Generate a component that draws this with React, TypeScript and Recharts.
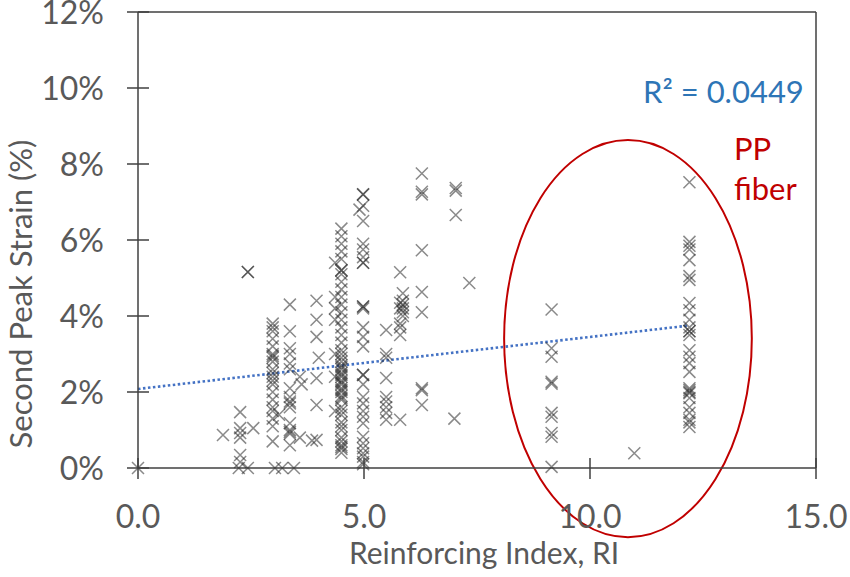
import React from "react";
import {
  ScatterChart, Scatter, XAxis, YAxis, ReferenceLine, ReferenceArea,
} from "recharts";

// Reinforcing Index (RI) vs. second peak strain (%)
const riValues = [
  0.0,
  1.88,
  2.26, 2.26, 2.26, 2.26, 2.26, 2.26, 2.23, 2.43, 2.43, 2.43, 2.55,
  2.98, 2.98, 2.98, 2.98, 2.98, 2.98, 2.98, 2.98, 2.98, 2.98, 2.98, 2.98, 2.98, 2.98, 2.98, 2.98, 2.98, 2.98, 3.03, 3.19, 3.12,
  2.98, 2.98, 2.98,
  3.36, 3.36, 3.36, 3.36, 3.36, 3.36, 3.36, 3.36, 3.36, 3.36, 3.36, 3.36, 3.36, 3.36, 3.45,
  3.36, 3.36,
  3.58, 3.62, 3.58,
  3.95, 3.95, 3.95, 3.95, 3.95, 3.95, 3.85, 4.0,
  4.36, 4.36, 4.36, 4.36, 4.36, 4.36, 4.36,
  4.5, 4.5, 4.5, 4.5, 4.5, 4.5, 4.5, 4.5, 4.5, 4.5, 4.5, 4.5, 4.5, 4.5, 4.5, 4.5, 4.5, 4.5, 4.5, 4.5,
  4.5, 4.5, 4.5, 4.5, 4.5, 4.5, 4.5, 4.5, 4.5, 4.5, 4.5, 4.5, 4.5, 4.5, 4.5, 4.5, 4.5, 4.5,
  4.5, 4.5, 4.5, 4.5, 4.5, 4.5, 4.5, 4.5, 4.5, 4.5,
  4.98, 4.98, 4.9, 4.98, 4.98, 4.98, 4.98, 4.98, 4.98, 4.98, 4.98, 4.98, 4.98, 4.98, 4.98, 4.98, 4.98, 4.98,
  4.98, 4.98, 4.98, 4.98, 4.98, 4.98, 4.98, 4.98, 4.98,
  4.98, 4.98, 4.98, 4.98,
  5.49, 5.49, 5.49, 5.49, 5.49, 5.49, 5.49, 5.49, 5.49,
  5.8, 5.8, 5.8, 5.8, 5.8, 5.8, 5.8,
  5.86, 5.86, 5.86, 5.86, 5.86, 5.86,
  6.28, 6.28, 6.28, 6.28, 6.28, 6.28, 6.28, 6.28, 6.28,
  7.03, 7.03, 7.03, 7.0,
  7.33,
  9.15, 9.15, 9.15, 9.15, 9.15, 9.15, 9.15, 9.15, 9.15, 9.15,
  10.98,
  12.2, 12.2, 12.2, 12.2, 12.2, 12.2, 12.2, 12.2, 12.2, 12.2, 12.2, 12.2, 12.2, 12.2, 12.2, 12.2,
  12.2, 12.2, 12.2, 12.2, 12.2, 12.2, 12.2, 12.2, 12.2,
  12.2, 12.2, 12.2,
];
const strainValues = [
  0.0,
  0.87,
  1.47, 1.05, 0.92, 0.8, 0.34, 0.16, 0.0, 5.16, 5.16, 0.0, 1.05,
  3.8, 3.6, 3.4, 3.2, 3.0, 2.9, 2.8, 2.6, 2.5, 2.3, 2.2, 2.0, 1.8, 1.6, 1.5, 1.3, 1.1, 0.7, 0.0, 0.0, 1.4,
  3.7, 2.95, 2.4,
  4.3, 3.6, 3.15, 3.0, 2.75, 2.6, 2.1, 1.87, 1.7, 1.6, 1.18, 1.0, 0.9, 0.6, 0.0,
  1.75, 0.95,
  2.4, 2.2, 0.8,
  4.4, 3.9, 3.45, 2.36, 1.66, 0.74, 0.72, 2.9,
  5.4, 4.5, 4.2, 3.9, 3.0, 2.4, 1.5,
  6.3, 6.1, 5.9, 5.7, 5.5, 5.2, 5.1, 4.9, 4.7, 4.5, 4.3, 4.1, 3.9, 3.7, 3.5, 3.3, 3.1, 3.0, 2.9, 2.8,
  2.7, 2.6, 2.5, 2.4, 2.3, 2.2, 2.1, 2.0, 1.9, 1.8, 1.6, 1.4, 1.2, 1.0, 0.8, 0.6, 0.5, 0.4,
  5.2, 2.65, 2.45, 2.25, 2.05, 1.85, 1.5, 1.1, 0.7, 0.55,
  7.2, 6.9, 6.8, 6.5, 5.9, 5.75, 5.55, 5.4, 4.25, 4.2, 3.7, 3.45, 3.2, 2.45, 2.2, 1.87, 1.7, 1.5,
  1.35, 1.18, 0.82, 0.65, 0.52, 0.39, 0.16, 0.3, 0.1,
  7.2, 5.4, 4.25, 2.45,
  3.63, 3.0, 2.9, 2.37, 1.87, 1.75, 1.6, 1.45, 1.27,
  5.15, 3.8, 3.7, 4.35, 4.2, 3.5, 1.27,
  4.6, 4.4, 4.3, 4.2, 4.1, 4.0,
  7.75, 7.27, 7.2, 5.73, 4.63, 4.1, 2.1, 2.05, 1.66,
  7.37, 7.3, 6.66, 1.3,
  4.87,
  4.17, 3.15, 2.93, 2.27, 2.22, 1.45, 1.35, 0.92, 0.82, 0.03,
  0.39,
  7.52, 5.95, 5.85, 5.75, 5.47, 5.05, 4.95, 4.34, 4.15, 3.9, 3.7, 3.6, 3.5, 3.1, 2.93, 2.76,
  2.53, 2.1, 2.0, 1.84, 1.6, 1.45, 1.27, 1.08, 1.97,
  3.6, 2.05, 1.2,
];

const xTicks = [0, 5, 10, 15];
const yTicks = [0, 2, 4, 6, 8, 10, 12];

// linear trendline ends (Excel-style), plus the R² shown on the chart
const trendX = [0, 12.2];
const trendY = [2.08, 3.75];
const rSquared = "0.0449";

// PP fiber group outline, in data units
const ppBoxX = [8.1, 13.58];
const ppBoxY = [-1.82, 8.63];

const points = riValues.map((x, i) => ({ x, y: strainValues[i] }));

const AXIS = "#404040";
const TEXT = "#595959";
const FONT = "Lato, 'Open Sans', sans-serif";

const Cross = (props: any) => {
  const { cx, cy } = props;
  if (cx == null || cy == null) return <g />;
  const r = 6;
  return (
    <path
      d={`M${cx - r},${cy - r}L${cx + r},${cy + r}M${cx - r},${cy + r}L${cx + r},${cy - r}`}
      stroke="#2a2a2a"
      strokeOpacity={0.55}
      strokeWidth={1.5}
      fill="none"
    />
  );
};

const XTick = (props: any) => {
  const { x, y, payload } = props;
  return (
    <g>
      <line x1={x} x2={x} y1={y - 10} y2={y + 11} stroke={AXIS} strokeWidth={1.5} />
      <text x={x} y={y + 60} textAnchor="middle" fill={TEXT} fontSize={32} fontFamily={FONT}>
        {Number(payload.value).toFixed(1)}
      </text>
    </g>
  );
};

const YTick = (props: any) => {
  const { x, y, payload } = props;
  return (
    <g>
      <line x1={x - 11} x2={x + 11} y1={y} y2={y} stroke={AXIS} strokeWidth={1.5} />
      <text x={x - 34} y={y + 12} textAnchor="end" fill={TEXT} fontSize={32} fontFamily={FONT}>
        {`${payload.value}%`}
      </text>
    </g>
  );
};

export default function App() {
  return (
    <div style={{ position: "absolute", left: 0, top: 0, width: 850, height: 577, background: "#fff" }}>
      <ScatterChart width={850} height={577} margin={{ top: 12, right: 34, bottom: 0, left: 0 }}>
        <XAxis
          type="number"
          dataKey="x"
          domain={[0, 15]}
          ticks={xTicks}
          height={109}
          tickSize={0}
          tickMargin={0}
          tickLine={false}
          axisLine={{ stroke: AXIS, strokeWidth: 1.5 }}
          tick={<XTick />}
        />
        <YAxis
          type="number"
          dataKey="y"
          domain={[0, 12]}
          ticks={yTicks}
          width={138}
          tickSize={0}
          tickMargin={0}
          tickLine={false}
          axisLine={{ stroke: AXIS, strokeWidth: 1.5 }}
          tick={<YTick />}
        />
        <ReferenceLine y={12} stroke={AXIS} strokeWidth={1.5} />
        <ReferenceLine x={15} stroke={AXIS} strokeWidth={1.5} />
        <ReferenceArea
          x1={ppBoxX[0]}
          x2={ppBoxX[1]}
          y1={ppBoxY[0]}
          y2={ppBoxY[1]}
          ifOverflow="visible"
          shape={(p: any) => (
            <ellipse
              cx={p.x + p.width / 2}
              cy={p.y + p.height / 2}
              rx={Math.abs(p.width / 2)}
              ry={Math.abs(p.height / 2)}
              fill="none"
              stroke="#C00000"
              strokeWidth={2}
            />
          )}
        />
        <Scatter data={points} shape={<Cross />} isAnimationActive={false} />
        <ReferenceLine
          segment={[
            { x: trendX[0], y: trendY[0] },
            { x: trendX[1], y: trendY[1] },
          ]}
          stroke="#4472C4"
          strokeWidth={2.6}
          strokeDasharray="2.5 2.5"
        />
      </ScatterChart>
      <svg
        width={850}
        height={577}
        style={{ position: "absolute", left: 0, top: 0, pointerEvents: "none" }}
      >
        <text x={643} y={103} fill="#2E75B6" fontSize={31} fontFamily={FONT}>
          {`R² = ${rSquared}`}
        </text>
        <text x={734} y={160} fill="#C00000" fontSize={31} fontFamily={FONT}>PP</text>
        <text x={734} y={200} fill="#C00000" fontSize={31} fontFamily={FONT}>fiber</text>
        <text x={484} y={564} textAnchor="middle" fill={TEXT} fontSize={30} fontFamily={FONT}>
          Reinforcing Index, RI
        </text>
        <text
          transform="translate(32,294) rotate(-90)"
          textAnchor="middle"
          fill={TEXT}
          fontSize={31}
          fontFamily={FONT}
        >
          Second Peak Strain (%)
        </text>
      </svg>
    </div>
  );
}
